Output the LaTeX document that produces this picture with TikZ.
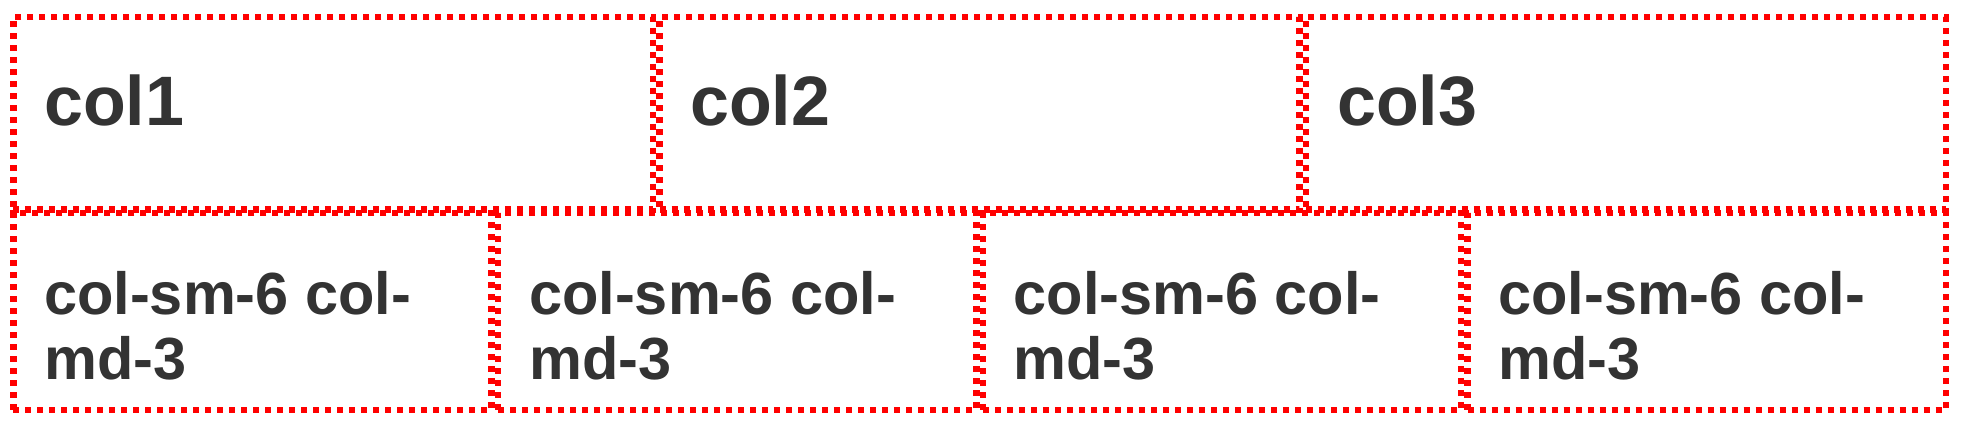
\documentclass[tikz,border=0pt]{standalone}
\usepackage{fontspec}
\setmainfont{Liberation Sans}
\definecolor{bred}{HTML}{FF0000}
\definecolor{txt}{HTML}{333333}
\begin{document}
\begin{tikzpicture}[x=1pt,y=-1pt,
  cell/.style={draw=bred, line width=6.5pt, dash pattern=on 6pt off 6pt, inner sep=0pt, outer sep=0pt},
  topcell/.style={cell, minimum width=639.8pt, minimum height=192.5pt},
  botcell/.style={cell, minimum width=478.25pt, minimum height=196.5pt},
  toplabel/.style={anchor=base west, inner sep=0pt, text=txt, font=\bfseries\fontsize{70}{80}\selectfont},
  botlabel/.style={anchor=base west, inner sep=0pt, text=txt, font=\bfseries\fontsize{59.5}{65}\selectfont, align=left}
]
\useasboundingbox (0,0) rectangle (1964,430);
% top row
\node[topcell] (c1) at (333.15,113.5) {};
\node[topcell] (c2) at (979.5,113.5) {};
\node[topcell] (c3) at (1625.85,113.5) {};
% bottom row
\node[botcell] (s1) at (252.375,311.5) {};
\node[botcell] (s2) at (737.125,311.5) {};
\node[botcell] (s3) at (1221.875,311.5) {};
\node[botcell] (s4) at (1706.625,311.5) {};
% labels
\node[toplabel] (t1) at (44,126) {col1};
\node[toplabel] (t2) at (690,126) {col2};
\node[toplabel] (t3) at (1337,126) {col3};
\node[botlabel] (b1) at (44,314) {col-sm-6 col-};
\node[botlabel] (b1b) at (44,379) {md-3};
\node[botlabel] (b2) at (529,314) {col-sm-6 col-};
\node[botlabel] (b2b) at (529,379) {md-3};
\node[botlabel] (b3) at (1013.5,314) {col-sm-6 col-};
\node[botlabel] (b3b) at (1013.5,379) {md-3};
\node[botlabel] (b4) at (1498,314) {col-sm-6 col-};
\node[botlabel] (b4b) at (1498,379) {md-3};
\end{tikzpicture}
\end{document}
